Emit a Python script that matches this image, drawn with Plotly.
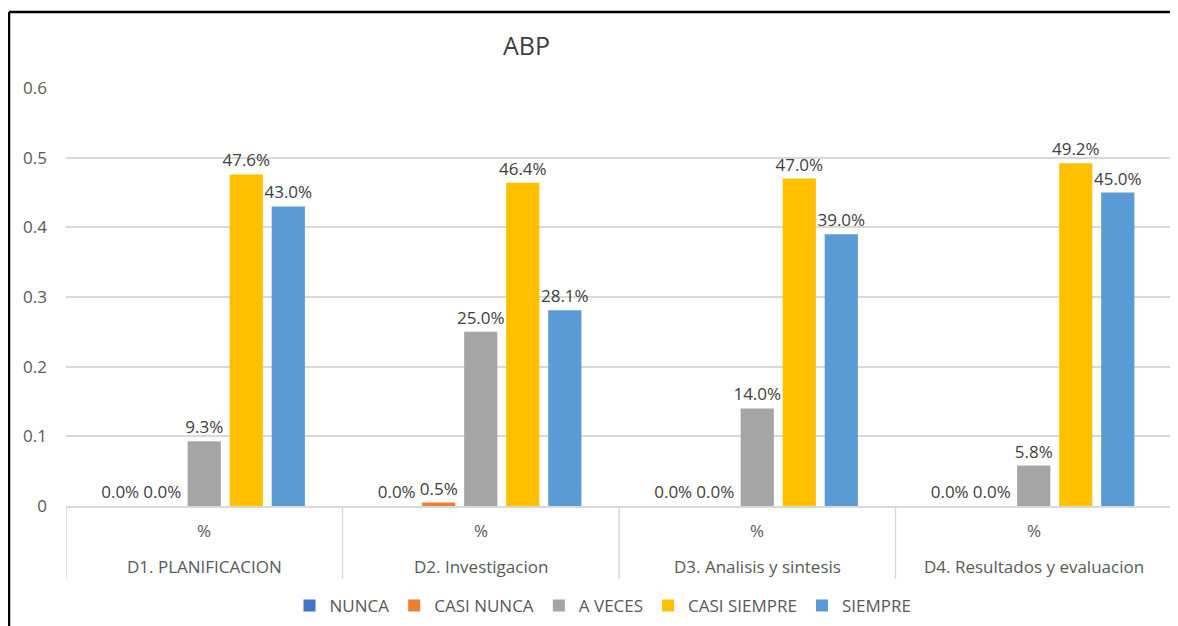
import plotly.graph_objects as go

categories = ["D1. PLANIFICACION", "D2. Investigacion", "D3. Analisis y sintesis", "D4. Resultados y evaluacion"]
sub_label = "%"
series_names = ["NUNCA", "CASI NUNCA", "A VECES", "CASI SIEMPRE", "SIEMPRE"]
nunca = [0.0, 0.0, 0.0, 0.0]
casi_nunca = [0.0, 0.005, 0.0, 0.0]
a_veces = [0.093, 0.25, 0.14, 0.058]
casi_siempre = [0.476, 0.464, 0.47, 0.492]
siempre = [0.43, 0.281, 0.39, 0.45]
colors = ["#4472C4", "#ED7D31", "#A5A5A5", "#FFC000", "#5B9BD5"]
y_ticks = [0, 0.1, 0.2, 0.3, 0.4, 0.5, 0.6]
y_ticktext = ["0", "0.1", "0.2", "0.3", "0.4", "0.5", "0.6"]

FONT = "Open Sans"
OFF = 8  # page body margin
W, H = 1178 - OFF, 626 - OFF
# plot area in screen pixels: x 66..1172, y 88..506
L, R = 66 - OFF, W - (1172 - OFF)
T, B = 88 - OFF, H - (506 - OFF)
pw, ph = W - L - R, H - T - B

def px_x(sx):
    return (sx - OFF - L) / pw

def px_y(sy):
    return (T + ph - (sy - OFF)) / ph

fig = go.Figure()
for name, vals, col in zip(series_names, [nunca, casi_nunca, a_veces, casi_siempre, siempre], colors):
    fig.add_trace(go.Bar(
        x=categories, y=vals, name=name,
        marker=dict(color=col, line=dict(width=0)),
        texttemplate="%{y:.1%}", textposition="outside",
        textfont=dict(family=FONT, size=17, color="#404040"),
        constraintext="none",
        cliponaxis=False,
    ))

for c in categories:
    fig.add_annotation(x=c, xref="x", y=px_y(530), yref="paper", text=sub_label,
                       xanchor="center", yanchor="middle",
                       showarrow=False, font=dict(family=FONT, size=17, color="#595959"))
    fig.add_annotation(x=c, xref="x", y=px_y(566), yref="paper", text=c,
                       xanchor="center", yanchor="middle",
                       showarrow=False, font=dict(family=FONT, size=17, color="#595959"))

for i in range(len(categories) + 1):
    fig.add_shape(type="line", xref="x", yref="paper", x0=i - 0.5, x1=i - 0.5,
                  y0=0, y1=px_y(579), line=dict(color="#D9D9D9", width=1.5))

# outer frame (top and left edges visible)
fig.add_shape(type="line", xref="paper", yref="paper",
              x0=px_x(9), x1=px_x(1178), y0=px_y(12), y1=px_y(12),
              line=dict(color="#000000", width=2.5))
fig.add_shape(type="line", xref="paper", yref="paper",
              x0=px_x(9), x1=px_x(9), y0=px_y(12), y1=px_y(626),
              line=dict(color="#000000", width=2.5))

fig.add_annotation(x=px_x(526), y=px_y(45), xref="paper", yref="paper", text="ABP",
                   xanchor="center", yanchor="middle",
                   showarrow=False, font=dict(family=FONT, size=25, color="#404040"))

fig.update_layout(
    width=W, height=H,
    margin=dict(l=L, r=R, t=T, b=B, autoexpand=False),
    paper_bgcolor="white", plot_bgcolor="white",
    barmode="group", bargap=0.24, bargroupgap=0.21,
    showlegend=True,
    legend=dict(orientation="h", x=px_x(603), xanchor="center", y=px_y(606), yanchor="middle",
                font=dict(family=FONT, size=17, color="#595959"), itemwidth=30,
                traceorder="normal"),
    font=dict(family=FONT),
)
fig.update_xaxes(type="category", range=[-0.5, 3.5], showticklabels=False, showgrid=False,
                 showline=True, linecolor="#D9D9D9", linewidth=1.5, ticks="", zeroline=False,
                 automargin=False)
fig.update_yaxes(range=[0, 0.6], tickvals=y_ticks, ticktext=y_ticktext, showgrid=True,
                 gridcolor="#D9D9D9", gridwidth=1.5, zeroline=False, showline=False,
                 ticks="", ticklabelstandoff=18, automargin=False,
                 tickfont=dict(family=FONT, size=17, color="#595959"))

fig.write_html("out.html")
